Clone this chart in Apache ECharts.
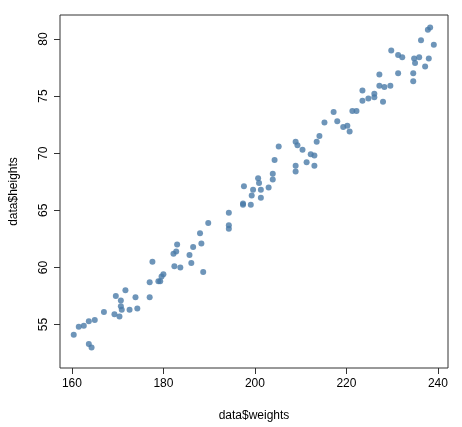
<!DOCTYPE html>
<html>
<head>
<meta charset="utf-8">
<script src="https://cdn.jsdelivr.net/npm/echarts@6/dist/echarts.min.js"></script>
<style>html,body{margin:0;padding:0;background:#fff}#c{width:462px;height:427px}</style>
</head>
<body>
<div id="c"></div>
<script>
// weights / heights
var weights = [160.4,161.5,162.6,163.7,165.0,163.7,164.3,167.0,169.3,170.4,169.6,170.7,171.7,170.7,170.9,172.6,173.9,174.3,177.0,177.0,177.6,178.9,179.3,179.6,180.0,182.4,183.7,182.2,182.8,183.0,185.7,186.1,186.5,188.3,188.0,188.7,189.8,
  194.3,194.3,194.3,197.4,197.4,199.1,197.6,199.6,199.3,201.3,201.3,200.7,200.9,203.0,203.9,203.9,204.3,205.2,208.9,209.3,208.9,208.9,210.4,211.3,212.2,213.0,213.0,213.5,214.1,215.2,
  217.2,218.0,219.3,220.2,220.7,221.3,222.2,223.5,223.5,224.8,226.1,226.1,228.0,227.2,227.2,228.3,229.6,231.3,229.8,231.3,232.2,234.6,234.6,235.0,234.8,235.9,237.2,238.0,236.3,239.1,237.8,238.3];
var heights = [54.1,54.8,54.9,55.3,55.4,53.3,53.0,56.1,55.9,55.7,57.5,57.1,58.0,56.6,56.3,56.3,57.4,56.4,57.4,58.7,60.5,58.8,58.8,59.2,59.4,60.1,60.0,61.2,61.4,62.0,61.1,60.4,61.8,62.1,63.0,59.6,63.9,
  64.8,63.7,63.4,65.6,65.5,65.5,67.1,66.8,66.3,66.1,66.8,67.8,67.4,67.0,67.7,68.2,69.4,70.6,71.0,70.7,68.9,68.4,70.3,69.2,69.9,69.8,68.9,71.0,71.5,72.7,
  73.6,72.8,72.3,72.4,71.9,73.7,73.7,74.6,75.5,74.8,74.9,75.2,74.5,75.9,76.9,75.8,75.9,77.0,79.0,78.6,78.4,77.0,76.3,77.9,78.3,78.4,77.6,78.3,79.9,79.5,80.8,81.0];
var xTicks = [160, 180, 200, 220, 240];
var yTicks = [55, 60, 65, 70, 75, 80];

var points = weights.map(function (w, i) { return [w, heights[i]]; });
var font = 'Liberation Sans, Arial, sans-serif';

var chart = echarts.init(document.getElementById('c'));
chart.setOption({
  animation: false,
  grid: { left: 58, right: 14, top: 15, bottom: 57, show: true, borderColor: '#333', borderWidth: 1, backgroundColor: 'transparent' },
  xAxis: {
    type: 'value', min: 157.4, max: 242.2,
    name: 'data$weights', nameLocation: 'middle', nameGap: 42,
    nameTextStyle: { color: '#000', fontSize: 12, fontFamily: font },
    axisLine: { show: false },
    axisTick: { show: true, length: 6, inside: false, customValues: xTicks, lineStyle: { color: '#333' } },
    axisLabel: { customValues: xTicks, color: '#000', fontSize: 12, fontFamily: font, margin: 10 },
    splitLine: { show: false }
  },
  yAxis: {
    type: 'value', min: 51.2, max: 82.1,
    name: 'data$heights', nameLocation: 'middle', nameGap: 40, nameRotate: 90,
    nameTextStyle: { color: '#000', fontSize: 12, fontFamily: font },
    axisLine: { show: false },
    axisTick: { show: true, length: 6, inside: false, customValues: yTicks, lineStyle: { color: '#333' } },
    axisLabel: { customValues: yTicks, rotate: 90, color: '#000', fontSize: 12, fontFamily: font, margin: 10 },
    splitLine: { show: false }
  },
  series: [{
    type: 'scatter',
    data: points,
    symbol: 'circle',
    symbolSize: 6,
    itemStyle: { color: '#4a7ba7' }
  }]
});
</script>
</body>
</html>
